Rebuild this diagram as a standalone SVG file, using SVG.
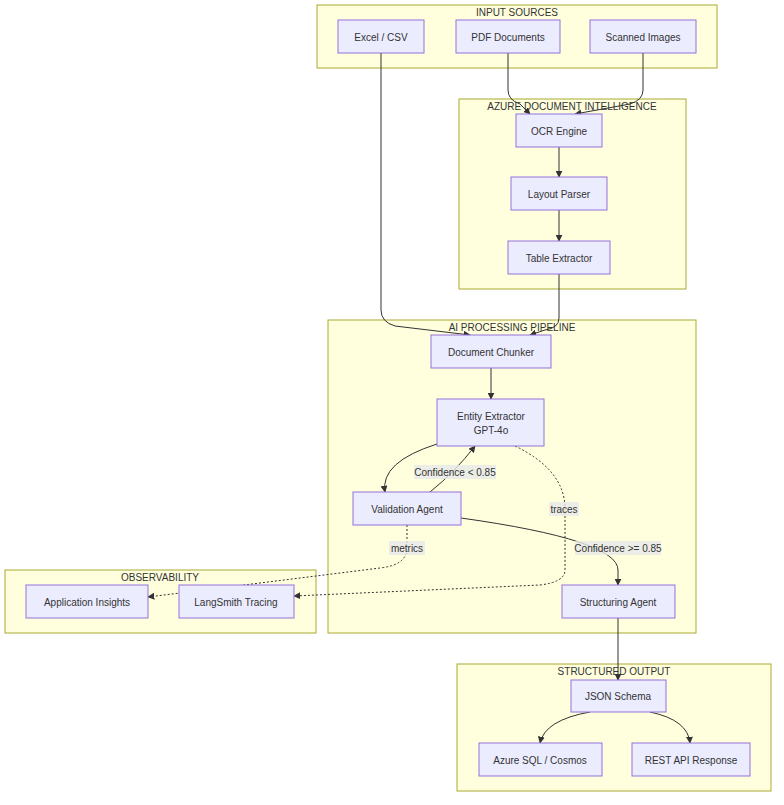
<svg xmlns="http://www.w3.org/2000/svg" width="784" height="805" viewBox="0 0 784 805">
<style>
.c{fill:#ffffde;stroke:#aaaa33;stroke-width:1}
.n{fill:#ececff;stroke:#9370db;stroke-width:1}
text{font-family:"Liberation Sans",Arial,sans-serif;font-size:10px;fill:#333;text-anchor:middle;dominant-baseline:central}
.e{fill:none;stroke:#333;stroke-width:1}
.d{stroke-dasharray:2 2}
.lb{fill:#e8e8e8;opacity:0.8}
</style>
<defs><marker id="a" viewBox="0 0 10 10" refX="9" refY="5" markerWidth="7" markerHeight="7" orient="auto"><path d="M0,0L10,5L0,10z" fill="#333"/></marker></defs>
<rect class="c" x="317" y="5" width="400" height="63"/><text x="517" y="12">INPUT SOURCES</text>
<rect class="c" x="459" y="99" width="227" height="190"/><text x="572" y="106">AZURE DOCUMENT INTELLIGENCE</text>
<rect class="c" x="328" y="320" width="368" height="313"/><text x="512" y="327">AI PROCESSING PIPELINE</text>
<rect class="c" x="5" y="570" width="311" height="63"/><text x="160" y="577">OBSERVABILITY</text>
<rect class="c" x="457" y="664" width="314" height="127"/><text x="614" y="671">STRUCTURED OUTPUT</text>
<g id="edges">
<path class="e" marker-end="url(#a)" d="M381,53L381,310Q381,322 395,326L470,335"/>
<path class="e" marker-end="url(#a)" d="M508,53L508,90Q508,100 520,104L530,114"/>
<path class="e" marker-end="url(#a)" d="M643,53L643,90Q643,100 630,104L575,114"/>
<path class="e" marker-end="url(#a)" d="M559,147L559,177"/>
<path class="e" marker-end="url(#a)" d="M559,210L559,241"/>
<path class="e" marker-end="url(#a)" d="M559,274L559,318Q559,328 545,330L530,335"/>
<path class="e" marker-end="url(#a)" d="M491,368L491,399"/>
<path class="e" marker-end="url(#a)" d="M437,444Q380,462 385,492"/>
<path class="e" marker-end="url(#a)" d="M430,492Q455,472 475,446"/>
<path class="e" marker-end="url(#a)" d="M461,518Q618,540 618,570L618,585"/>
<path class="e d" marker-end="url(#a)" d="M515,446Q565,470 565,509L565,570Q565,582 540,585L294,596"/>
<path class="e d" marker-end="url(#a)" d="M407,525L407,548Q407,565 380,568L148,597"/>
<path class="e" marker-end="url(#a)" d="M618,618L618,680"/>
<path class="e" marker-end="url(#a)" d="M590,712Q545,720 540,743"/>
<path class="e" marker-end="url(#a)" d="M650,712Q688,720 690,743"/>
<rect class="lb" x="414" y="465" width="82" height="14"/><text x="455" y="472">Confidence &lt; 0.85</text>
<rect class="lb" x="575" y="541" width="86" height="14"/><text x="618" y="548">Confidence &gt;= 0.85</text>
<rect class="lb" x="549" y="502" width="30" height="14"/><text x="564" y="509">traces</text>
<rect class="lb" x="389" y="541" width="36" height="14"/><text x="407" y="548">metrics</text>
</g>
<g id="excel"><rect class="n" x="338" y="20" width="86" height="33"/><text x="381" y="37">Excel / CSV</text></g>
<g id="pdf"><rect class="n" x="456" y="20" width="104" height="33"/><text x="508" y="37">PDF Documents</text></g>
<g id="scan"><rect class="n" x="590" y="20" width="106" height="33"/><text x="643" y="37">Scanned Images</text></g>
<g id="ocr"><rect class="n" x="516" y="114" width="86" height="33"/><text x="559" y="131">OCR Engine</text></g>
<g id="layout"><rect class="n" x="511" y="177" width="96" height="33"/><text x="559" y="194">Layout Parser</text></g>
<g id="table"><rect class="n" x="508" y="241" width="102" height="33"/><text x="559" y="258">Table Extractor</text></g>
<g id="chunker"><rect class="n" x="431" y="335" width="120" height="33"/><text x="491" y="352">Document Chunker</text></g>
<g id="entity"><rect class="n" x="437" y="399" width="107" height="47"/><text x="491" y="416">Entity Extractor</text><text x="491" y="430">GPT-4o</text></g>
<g id="validation"><rect class="n" x="353" y="492" width="108" height="33"/><text x="407" y="509">Validation Agent</text></g>
<g id="structuring"><rect class="n" x="562" y="585" width="113" height="33"/><text x="618" y="602">Structuring Agent</text></g>
<g id="appins"><rect class="n" x="26" y="585" width="122" height="33"/><text x="87" y="602">Application Insights</text></g>
<g id="langsmith"><rect class="n" x="179" y="585" width="115" height="33"/><text x="236" y="602">LangSmith Tracing</text></g>
<g id="json"><rect class="n" x="571" y="680" width="95" height="32"/><text x="618" y="696">JSON Schema</text></g>
<g id="sql"><rect class="n" x="479" y="743" width="123" height="33"/><text x="540" y="760">Azure SQL / Cosmos</text></g>
<g id="rest"><rect class="n" x="632" y="743" width="118" height="33"/><text x="691" y="760">REST API Response</text></g>
</svg>
